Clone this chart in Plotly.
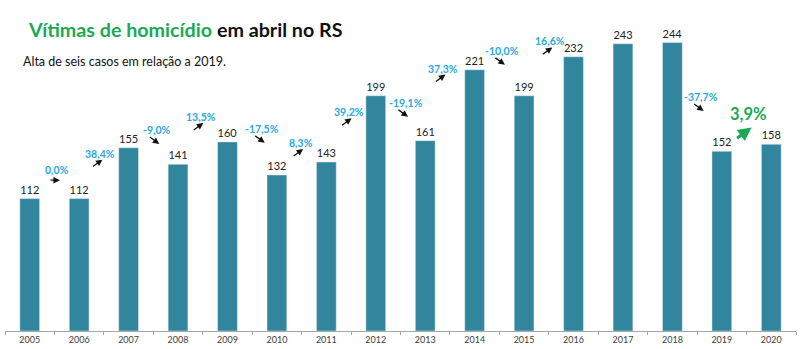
import plotly.graph_objects as go

# Homicide victims in April, Rio Grande do Sul
anos = ["2005", "2006", "2007", "2008", "2009", "2010", "2011", "2012",
        "2013", "2014", "2015", "2016", "2017", "2018", "2019", "2020"]
vitimas = [112, 112, 155, 141, 160, 132, 143, 199,
           161, 221, 199, 232, 243, 244, 152, 158]
variacao = ["0,0%", "38,4%", "-9,0%", "13,5%", "-17,5%", "8,3%", "39,2%", "-19,1%",
            "37,3%", "-10,0%", "16,6%", "4,7%", "0,4%", "-37,7%", "3,9%"]

# placement of each year-over-year change label:
# height in axis units and horizontal nudge in pixels from the category boundary
altura_rotulo = [136, 150, 170, 181, 171, 159, 185, 193,
                 222, 237, 245, 264, 267, 198, 184]
ajuste_x_px = [3, -4, 3.5, -2, 10, -1, -2, 5,
               -7, 3, 1, -2, 0, 4, 2]

BAR = "#31859C"
CYAN = "#2AA8DE"
GREEN = "#1AAA55"
FONT = "Lato, 'Open Sans', sans-serif"

W, H = 800, 349
M_L, M_R, M_T, M_B = 5, 4, 40, 16
PLOT_W = W - M_L - M_R
PLOT_H = H - M_T - M_B
Y_MAX = 246.2
PX_PER_UNIT = PLOT_H / Y_MAX
PX_PER_CAT = PLOT_W / len(anos)


def paper_x(px):
    return (px - M_L) / PLOT_W


def paper_y(py):
    return (H - M_B - py) / PLOT_H


fig = go.Figure()
fig.add_trace(go.Bar(
    x=anos, y=vitimas, marker_color=BAR, width=0.4,
    text=[str(v) for v in vitimas], textposition="outside",
    textfont=dict(family=FONT, size=11, color="#222222"),
    cliponaxis=False, hoverinfo="skip",
))

annotations = []
for i, (lab, yl, dx) in enumerate(zip(variacao, altura_rotulo, ajuste_x_px)):
    xc = i + 0.5 + dx / PX_PER_CAT
    destaque = i == len(variacao) - 1
    sinal = 0 if lab.startswith("0,0") else (-1 if lab.startswith("-") else 1)
    annotations.append(dict(
        x=xc, y=yl, xref="x", yref="y", text=f"<b>{lab}</b>", showarrow=False,
        font=dict(family=FONT, size=16.5 if destaque else 10.5,
                  color=GREEN if destaque else CYAN),
    ))
    # small trend arrow under each label
    dy_px = 10 if not destaque else 20
    ax_half = 5.5 if not destaque else 8
    ay_half = 0 if sinal == 0 else (4 if not destaque else 6)
    cy = yl - dy_px / PX_PER_UNIT
    cx = xc - (3 if not destaque else 5) / PX_PER_CAT
    hx = cx + ax_half / PX_PER_CAT
    hy = cy + sinal * ay_half / PX_PER_UNIT
    annotations.append(dict(
        x=hx, y=hy, xref="x", yref="y", text="", showarrow=True,
        ax=-2 * ax_half, ay=sinal * 2 * ay_half, axref="pixel", ayref="pixel",
        arrowhead=2, arrowsize=0.9 if destaque else 1.0,
        arrowwidth=3 if destaque else 1.3,
        arrowcolor=GREEN if destaque else "#111111",
    ))

# heading and subheading
annotations.append(dict(
    x=paper_x(26), y=paper_y(29), xref="paper", yref="paper",
    xanchor="left", yanchor="middle", showarrow=False,
    text=f"<b><span style='color:{GREEN}'>Vítimas de homicídio</span> em abril no RS</b>",
    font=dict(family=FONT, size=19.7, color="#111111"),
))
annotations.append(dict(
    x=paper_x(21), y=paper_y(62), xref="paper", yref="paper",
    xanchor="left", yanchor="middle", showarrow=False,
    text="Alta de seis casos em relação a 2019.",
    font=dict(family=FONT, size=12.5, color="#111111"),
))

fig.update_layout(
    width=W, height=H,
    margin=dict(l=M_L, r=M_R, t=M_T, b=M_B),
    paper_bgcolor="white", plot_bgcolor="white",
    showlegend=False,
    bargap=0.6,
    xaxis=dict(
        type="category", showgrid=False, showline=True, linecolor="#A6A6A6",
        linewidth=1, ticks="outside", tickson="boundaries", ticklen=3,
        tickcolor="#A6A6A6", tickfont=dict(family=FONT, size=9, color="#404040"),
        fixedrange=True,
    ),
    yaxis=dict(range=[0, Y_MAX], visible=False, fixedrange=True),
    annotations=annotations,
)
fig.write_html("out.html")
